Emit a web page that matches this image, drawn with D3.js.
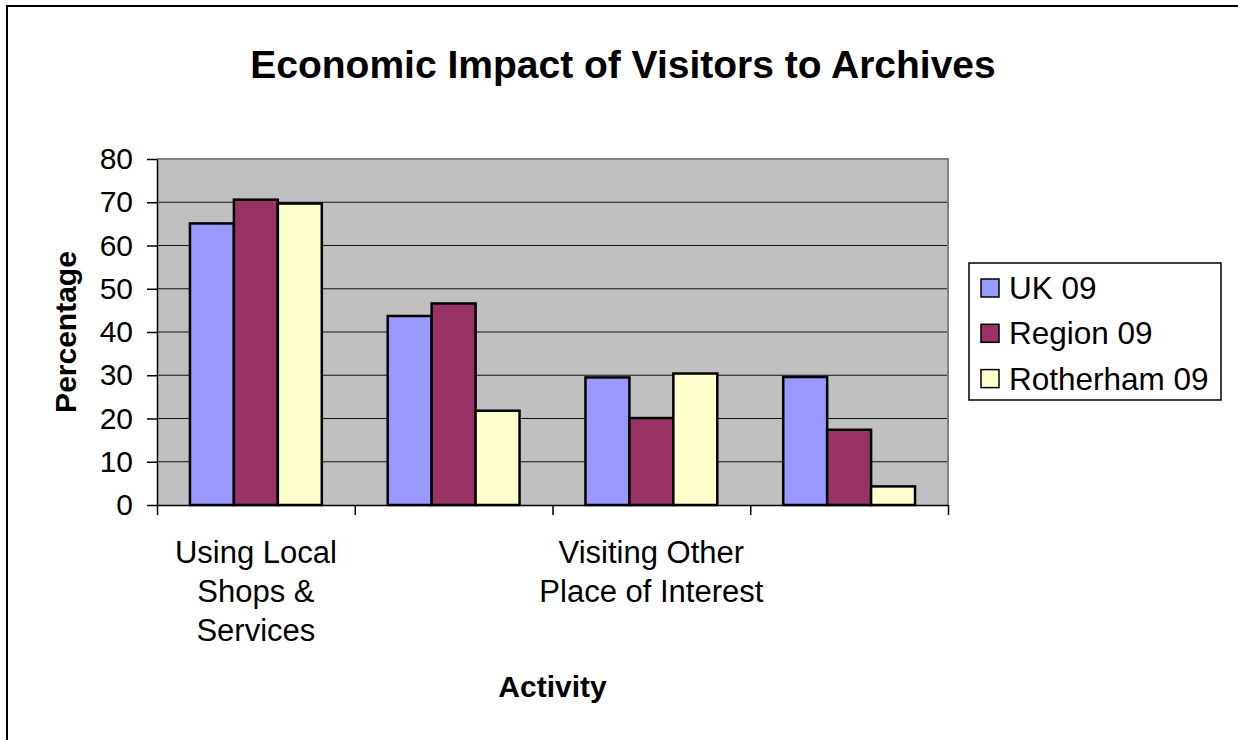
<!DOCTYPE html>
<html>
<head>
<meta charset="utf-8">
<script src="https://cdn.jsdelivr.net/npm/d3@7/dist/d3.min.js"></script>
<style>
  html, body { margin: 0; padding: 0; background: #fff; }
  svg { display: block; font-family: "Liberation Sans", Arial, sans-serif; }
</style>
</head>
<body>
<svg id="chart" width="1238" height="740"></svg>
<script>
// Share of archive visitors doing each activity, by survey group
const categoryLabels = [
  ["Using Local", "Shops &", "Services"],
  [],
  ["Visiting Other", "Place of Interest"],
  []
];
const seriesNames = ["UK 09", "Region 09", "Rotherham 09"];
const ukValues = [65.1, 43.7, 29.5, 29.6];
const regionValues = [70.6, 46.6, 20.1, 17.4];
const rotherhamValues = [69.7, 21.8, 30.4, 4.3];
const seriesColors = ["#9999FF", "#993366", "#FFFFCC"];
const yTicks = [0, 10, 20, 30, 40, 50, 60, 70, 80];

const seriesValues = [ukValues, regionValues, rotherhamValues];
const rows = categoryLabels.map((lab, i) => ({
  index: i,
  label: lab,
  values: seriesNames.map((s, j) => ({ series: s, j, value: seriesValues[j][i] }))
}));

const svg = d3.select("#chart");

// chart frame (top and left edges visible)
svg.append("path")
  .attr("d", "M7,740 L7,6 L1238,6")
  .attr("fill", "none").attr("stroke", "#000").attr("stroke-width", 2);

const plot = { left: 157, right: 948, top: 159, bottom: 505 };

const x = d3.scaleBand()
  .domain(rows.map(d => d.index))
  .range([plot.left, plot.right])
  .paddingInner(1 / 3)
  .paddingOuter(1 / 6);

const xInner = d3.scaleBand()
  .domain(seriesNames)
  .range([0, x.bandwidth()]);

const y = d3.scaleLinear().domain([0, 80]).range([plot.bottom, plot.top]);

// plot background
svg.append("rect")
  .attr("x", plot.left).attr("y", plot.top)
  .attr("width", plot.right - plot.left).attr("height", plot.bottom - plot.top)
  .attr("fill", "#C0C0C0");

// gridlines
svg.append("g")
  .selectAll("line")
  .data(yTicks.filter(t => t > 0 && t < 80))
  .join("line")
  .attr("x1", plot.left).attr("x2", plot.right)
  .attr("y1", d => y(d)).attr("y2", d => y(d))
  .attr("stroke", "#111").attr("stroke-width", 1.2);

// plot border on top and right
svg.append("path")
  .attr("d", `M${plot.left},${plot.top} L${plot.right},${plot.top} L${plot.right},${plot.bottom}`)
  .attr("fill", "none").attr("stroke", "#808080").attr("stroke-width", 2);

// bars
svg.append("g")
  .selectAll("g")
  .data(rows)
  .join("g")
  .attr("transform", d => `translate(${x(d.index)},0)`)
  .selectAll("rect")
  .data(d => d.values)
  .join("rect")
  .attr("x", d => xInner(d.series))
  .attr("y", d => y(d.value))
  .attr("width", xInner.bandwidth())
  .attr("height", d => y(0) - y(d.value))
  .attr("fill", d => seriesColors[d.j])
  .attr("stroke", "#000")
  .attr("stroke-width", 2.5);

// y axis
const yAxis = svg.append("g")
  .attr("transform", `translate(${plot.left},0)`)
  .call(d3.axisLeft(y).tickValues(yTicks).tickSize(10).tickPadding(14).tickSizeOuter(0));
yAxis.select(".domain").attr("stroke", "#000").attr("stroke-width", 1.5);
yAxis.selectAll(".tick line").attr("stroke", "#000").attr("stroke-width", 1.5);
yAxis.selectAll(".tick text")
  .attr("font-size", 30).attr("fill", "#000")
  .attr("font-family", "Liberation Sans, Arial, sans-serif");

// x axis with ticks at category boundaries
const xb = d3.scaleLinear().domain([0, rows.length]).range([plot.left, plot.right]);
const xAxis = svg.append("g")
  .attr("transform", `translate(0,${plot.bottom})`)
  .call(d3.axisBottom(xb).tickValues(d3.range(rows.length + 1)).tickSize(10).tickFormat("").tickSizeOuter(0));
xAxis.select(".domain").attr("stroke", "#000").attr("stroke-width", 1.5);
xAxis.selectAll(".tick line").attr("stroke", "#000").attr("stroke-width", 1.5);

// category labels
const catG = svg.append("g");
rows.forEach(r => {
  const cx = x(r.index) + x.bandwidth() / 2;
  const t = catG.append("text")
    .attr("x", cx).attr("y", 563)
    .attr("text-anchor", "middle")
    .attr("font-size", 31).attr("fill", "#000");
  r.label.forEach((line, k) => {
    t.append("tspan").attr("x", cx).attr("dy", k === 0 ? 0 : 39).text(line);
  });
});

// titles
svg.append("text")
  .attr("x", 623).attr("y", 78)
  .attr("text-anchor", "middle")
  .attr("font-size", 39).attr("font-weight", "bold")
  .text("Economic Impact of Visitors to Archives");

svg.append("text")
  .attr("x", (plot.left + plot.right) / 2).attr("y", 697)
  .attr("text-anchor", "middle")
  .attr("font-size", 30).attr("font-weight", "bold")
  .text("Activity");

svg.append("text")
  .attr("transform", `translate(76,${(plot.top + plot.bottom) / 2}) rotate(-90)`)
  .attr("text-anchor", "middle")
  .attr("font-size", 30).attr("font-weight", "bold")
  .text("Percentage");

// legend
const legend = svg.append("g").attr("transform", "translate(969,263)");
legend.append("rect")
  .attr("width", 252).attr("height", 137)
  .attr("fill", "#fff").attr("stroke", "#000").attr("stroke-width", 1.5);
const item = legend.selectAll("g.item")
  .data(seriesNames)
  .join("g")
  .attr("class", "item")
  .attr("transform", (d, i) => `translate(0,${25 + i * 45.3})`);
item.append("rect")
  .attr("x", 12).attr("y", -9)
  .attr("width", 18).attr("height", 18)
  .attr("fill", (d, i) => seriesColors[i])
  .attr("stroke", "#000").attr("stroke-width", 1.5);
item.append("text")
  .attr("x", 40).attr("y", 11)
  .attr("font-size", 31.5).attr("fill", "#000")
  .text(d => d);
</script>
</body>
</html>
